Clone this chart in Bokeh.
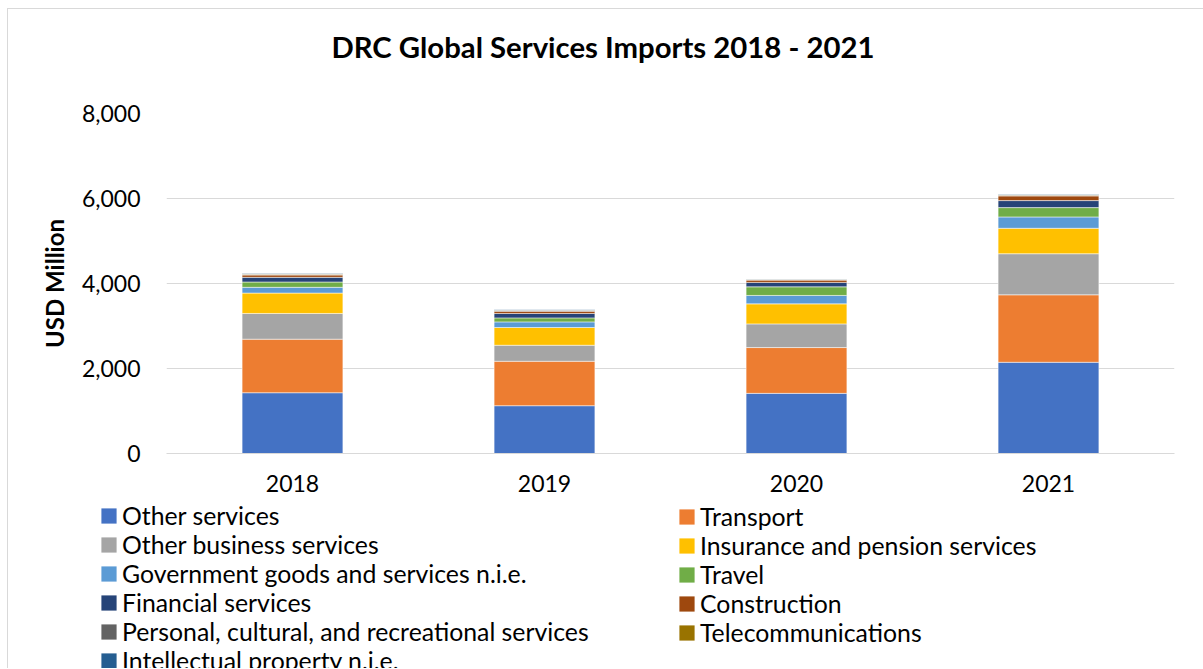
from bokeh.plotting import figure
from bokeh.layouts import column
from bokeh.models import (FactorRange, Range1d, FixedTicker, NumeralTickFormatter, Legend,
                          LegendItem, ColumnDataSource, Title)
from bokeh.embed import file_html
from bokeh.resources import INLINE

years = ["2018", "2019", "2020", "2021"]
series_names = [
    "Other services", "Transport", "Other business services",
    "Insurance and pension services", "Government goods and services n.i.e.",
    "Travel", "Financial services", "Construction",
    "Personal, cultural, and recreational services", "Telecommunications",
    "Intellectual property n.i.e.",
]
other_services = [1430, 1125, 1415, 2146]
transport = [1260, 1045, 1078, 1588]
other_business = [605, 377, 557, 967]
insurance = [480, 418, 471, 598]
government = [135, 132, 198, 267]
travel = [125, 94, 203, 220]
financial = [110, 104, 104, 165]
construction = [55, 54, 54, 110]
personal = [15, 12, 10, 15]
telecom = [15, 12, 8, 15]
intellectual = [10, 7, 6, 10]
y_ticks = [0, 2000, 4000, 6000, 8000]

colors = ["#4472C4", "#ED7D31", "#A5A5A5", "#FFC000", "#5B9BD5", "#70AD47",
          "#264478", "#9E480E", "#636363", "#997300", "#255E91"]
values = [other_services, transport, other_business, insurance, government, travel,
          financial, construction, personal, telecom, intellectual]
keys = ["s%d" % i for i in range(len(series_names))]
data = {"year": years}
for k, v in zip(keys, values):
    data[k] = v
source = ColumnDataSource(data)

FONT = "Lato"

p = figure(x_range=FactorRange(*years, range_padding=0, factor_padding=0),
           y_range=Range1d(0, 8000),
           width=1195, height=491, output_backend="svg", toolbar_location=None,
           min_border_left=158, min_border_right=29, min_border_top=104, min_border_bottom=47)
p.outline_line_color = None
p.title.text = ""

renderers = p.vbar_stack(keys, x="year", width=0.4, color=colors, source=source,
                         line_color="white", line_alpha=0.5, line_width=1)

# spacer between the plot area and the chart title
p.add_layout(Title(text=" ", text_font=FONT, text_font_size="10px", standoff=36), "above")
p.add_layout(Title(text="DRC Global Services Imports 2018 - 2021", text_font=FONT,
                   text_font_size="29.3px", text_font_style="bold", text_color="#000000",
                   align="left", offset=165, standoff=0), "above")

p.xgrid.grid_line_color = None
p.ygrid.grid_line_color = "#d9d9d9"
p.ygrid.grid_line_width = 1

p.yaxis.ticker = FixedTicker(ticks=y_ticks)
p.yaxis.formatter = NumeralTickFormatter(format="0,0")
p.yaxis.axis_line_color = None
p.yaxis.major_tick_line_color = None
p.yaxis.major_tick_out = 0
p.yaxis.minor_tick_line_color = None
p.yaxis.major_label_standoff = 26
p.yaxis.major_label_text_font = FONT
p.yaxis.major_label_text_font_size = "23px"
p.yaxis.major_label_text_color = "#000000"
p.yaxis.axis_label = "USD Million"
p.yaxis.axis_label_text_font = FONT
p.yaxis.axis_label_text_font_size = "24px"
p.yaxis.axis_label_text_font_style = "bold"
p.yaxis.axis_label_text_color = "#000000"
p.yaxis.axis_label_standoff = 10

p.xaxis.axis_line_color = "#d9d9d9"
p.xaxis.axis_line_width = 1
p.xaxis.major_tick_line_color = None
p.xaxis.major_tick_out = 0
p.xaxis.minor_tick_line_color = None
p.xaxis.major_label_standoff = 21
p.xaxis.major_label_text_font = FONT
p.xaxis.major_label_text_font_size = "23px"
p.xaxis.major_label_text_color = "#000000"

# legend panel below the chart
lf = figure(width=1195, height=168, x_range=(0, 1), y_range=(0, 1),
            x_axis_type=None, y_axis_type=None, output_backend="svg",
            toolbar_location=None, min_border_left=0, min_border_right=0,
            min_border_top=0, min_border_bottom=0)
if "frame_align" in lf.properties():
    lf.frame_align = False
lf.grid.visible = False
lf.outline_line_color = None
swatch_src = ColumnDataSource({"x": [0], "top": [0]})
swatches = [lf.vbar(x="x", top="top", width=0, source=swatch_src, fill_color=c, line_color=None)
            for c in colors]
items = [LegendItem(label=n, renderers=[r]) for n, r in zip(series_names, swatches)]


def make_legend(its, loc):
    leg = Legend(items=its, location=loc, orientation="vertical")
    leg.label_text_font = FONT
    leg.label_text_font_size = "24.8px"
    leg.label_text_color = "#000000"
    leg.glyph_width = 19
    leg.glyph_height = 19
    leg.label_height = 29
    leg.label_standoff = 4
    leg.spacing = 0
    leg.padding = 0
    leg.margin = 0
    leg.border_line_color = None
    leg.background_fill_alpha = 0
    return leg


lf.add_layout(make_legend(items[0::2], (91, -7)))
lf.add_layout(make_legend(items[1::2], (669, 21)))

layout = column(p, lf, styles={"margin-left": "7px", "margin-top": "8px",
                               "border-left": "1px solid #d9d9d9",
                               "border-top": "1px solid #d9d9d9"})

open("out.html", "w").write(file_html(layout, INLINE))
